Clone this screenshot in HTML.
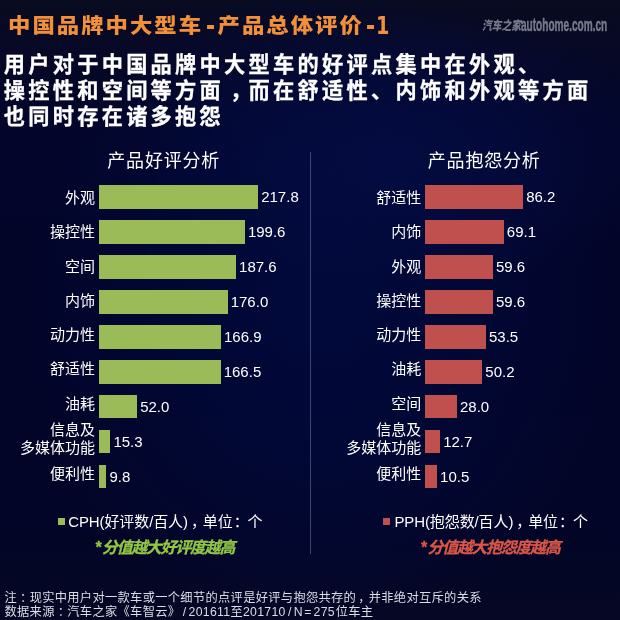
<!DOCTYPE html>
<html lang="zh">
<head>
<meta charset="utf-8">
<title>中国品牌中大型车-产品总体评价-1</title>
<style>
html,body{margin:0;padding:0;}
body{width:620px;height:620px;overflow:hidden;position:relative;background:#03062c;
font-family:"Liberation Sans","Noto Sans CJK SC",sans-serif;color:#fff;}
#bg{position:absolute;left:0;top:0;width:620px;height:620px;
background:
radial-gradient(ellipse 270px 140px at 400px 150px, rgba(4,14,72,0.6) 0%, rgba(4,14,72,0.35) 50%, rgba(4,14,72,0) 100%),
radial-gradient(ellipse 300px 330px at 320px 300px, rgba(1,10,62,0.9) 0%, rgba(1,10,62,0.6) 45%, rgba(1,10,62,0) 100%),
linear-gradient(180deg,#090b20 0%,#070925 6%,#03052a 20%,#020428 50%,#030528 85%,#050724 100%);}
.abs{position:absolute;white-space:nowrap;}
#title{left:7.7px;top:10px;width:400px;height:32px;font-size:21.4px;line-height:32px;font-weight:900;color:#f2903a;letter-spacing:1.95px;transform:scale(1.045,0.93);transform-origin:0 26px;}
.tt{font-weight:bold;color:#f2903a;}
#logo{left:481.5px;top:17px;width:130px;height:18px;font-weight:bold;color:#777a88;}
.hl{left:3.7px;font-size:21.2px;line-height:28px;font-weight:bold;color:#fff;letter-spacing:3.3px;-webkit-text-stroke:0.3px #fff;}
.sub{font-size:18px;line-height:24px;color:#fff;font-weight:400;letter-spacing:0.8px;text-align:center;width:160px;}
.lab{font-size:15px;line-height:18px;text-align:right;width:110px;color:#fff;}
.val{font-size:15px;line-height:18px;color:#fff;}
.bar{position:absolute;height:23.5px;}
.g{background:#9bbb59;}
.r{background:#c0504d;}
.leg{font-size:15px;line-height:20px;color:#fff;letter-spacing:-0.1px;}
.p1{position:relative;left:3px;}.p2{position:relative;left:1px;}
.note{font-size:15.8px;line-height:18px;font-weight:bold;font-style:italic;letter-spacing:-1.12px;-webkit-text-stroke:0.3px currentColor;}
.pc{position:relative;left:3px;}
.foot{left:4.5px;font-size:12.25px;line-height:14px;color:#dcdce6;letter-spacing:0.31px;}
</style>
</head>
<body>
<div id="bg"></div>
<div id="title" class="abs"><span class="abs" style="left:0">中国品牌中大型车</span><span class="abs" style="left:200.5px">产品总体评价</span></div>
<div class="abs tt" style="left:206.2px;top:4.2px;font-size:34px;line-height:40px;transform:scaleX(0.8);transform-origin:0 50%">-</div>
<div class="abs tt" style="left:366px;top:4.2px;font-size:34px;line-height:40px;transform:scaleX(0.8);transform-origin:0 50%">-</div>
<div class="abs tt" style="left:376px;top:10.6px;font-family:'DejaVu Sans',sans-serif;font-size:24.7px;line-height:30px;transform:scaleX(0.78);transform-origin:0 50%">1</div>
<div id="logo" class="abs"><span class="abs" style="left:0;top:0;font-size:12.5px;line-height:18px;font-weight:900;font-style:italic;transform:scaleX(0.78);transform-origin:0 50%">汽车之家</span><span class="abs" style="left:39.8px;top:-0.8px;font-size:18px;line-height:18px;-webkit-text-stroke:0.5px #777a88;transform:scaleX(0.56);transform-origin:0 50%">autohome.com.cn</span></div>
<div class="abs hl" style="top:50.9px">用户对于中国品牌中大型车的好评点集中在外观、</div>
<div class="abs hl" style="top:76.9px">操控性和空间等方面<span style="position:relative;left:6px">，</span>而在舒适性、内饰和外观等方面</div>
<div class="abs hl" style="top:103.1px">也同时存在诸多抱怨</div>

<div class="abs sub" style="left:83.7px;top:148.7px">产品好评分析</div>
<div class="abs sub" style="left:404.2px;top:148.7px">产品抱怨分析</div>
<div class="abs" style="left:310px;top:152px;width:1px;height:402px;background:rgba(150,155,195,0.42)"></div>

<!-- left chart -->
<div class="abs lab" style="left:-15.0px;top:188.9px">外观</div><div class="bar g" style="left:99.2px;top:185.30px;width:159.0px"></div><div class="abs val" style="left:261.2px;top:188.2px">217.8</div>
<div class="abs lab" style="left:-15.0px;top:223.1px">操控性</div><div class="bar g" style="left:99.2px;top:220.24px;width:145.7px"></div><div class="abs val" style="left:247.9px;top:223.2px">199.6</div>
<div class="abs lab" style="left:-15.0px;top:257.9px">空间</div><div class="bar g" style="left:99.2px;top:255.18px;width:136.9px"></div><div class="abs val" style="left:239.1px;top:258.1px">187.6</div>
<div class="abs lab" style="left:-15.0px;top:292.0px">内饰</div><div class="bar g" style="left:99.2px;top:290.12px;width:128.5px"></div><div class="abs val" style="left:230.7px;top:293.1px">176.0</div>
<div class="abs lab" style="left:-15.0px;top:326.3px">动力性</div><div class="bar g" style="left:99.2px;top:325.06px;width:121.8px"></div><div class="abs val" style="left:224.0px;top:328.0px">166.9</div>
<div class="abs lab" style="left:-15.0px;top:360.2px">舒适性</div><div class="bar g" style="left:99.2px;top:360.00px;width:121.5px"></div><div class="abs val" style="left:223.7px;top:362.9px">166.5</div>
<div class="abs lab" style="left:-15.0px;top:394.7px">油耗</div><div class="bar g" style="left:99.2px;top:394.94px;width:38.0px"></div><div class="abs val" style="left:140.2px;top:397.9px">52.0</div>
<div class="abs lab" style="left:-15.0px;top:421.1px">信息及<br>多媒体功能</div><div class="bar g" style="left:99.2px;top:429.88px;width:11.2px"></div><div class="abs val" style="left:113.4px;top:432.8px">15.3</div>
<div class="abs lab" style="left:-15.0px;top:464.5px">便利性</div><div class="bar g" style="left:99.2px;top:464.82px;width:7.2px"></div><div class="abs val" style="left:109.4px;top:467.8px">9.8</div>

<!-- right chart -->
<div class="abs lab" style="left:311.3px;top:188.9px">舒适性</div><div class="bar r" style="left:425.1px;top:185.30px;width:98.0px"></div><div class="abs val" style="left:526.2px;top:188.2px">86.2</div>
<div class="abs lab" style="left:311.3px;top:223.1px">内饰</div><div class="bar r" style="left:425.1px;top:220.24px;width:78.6px"></div><div class="abs val" style="left:506.8px;top:223.2px">69.1</div>
<div class="abs lab" style="left:311.3px;top:257.9px">外观</div><div class="bar r" style="left:425.1px;top:255.18px;width:67.8px"></div><div class="abs val" style="left:496.0px;top:258.1px">59.6</div>
<div class="abs lab" style="left:311.3px;top:292.0px">操控性</div><div class="bar r" style="left:425.1px;top:290.12px;width:67.8px"></div><div class="abs val" style="left:496.0px;top:293.1px">59.6</div>
<div class="abs lab" style="left:311.3px;top:326.3px">动力性</div><div class="bar r" style="left:425.1px;top:325.06px;width:60.8px"></div><div class="abs val" style="left:489.0px;top:328.0px">53.5</div>
<div class="abs lab" style="left:311.3px;top:360.2px">油耗</div><div class="bar r" style="left:425.1px;top:360.00px;width:57.1px"></div><div class="abs val" style="left:485.3px;top:362.9px">50.2</div>
<div class="abs lab" style="left:311.3px;top:394.7px">空间</div><div class="bar r" style="left:425.1px;top:394.94px;width:31.8px"></div><div class="abs val" style="left:460.0px;top:397.9px">28.0</div>
<div class="abs lab" style="left:311.3px;top:421.1px">信息及<br>多媒体功能</div><div class="bar r" style="left:425.1px;top:429.88px;width:15.0px"></div><div class="abs val" style="left:443.2px;top:432.8px">12.7</div>
<div class="abs lab" style="left:311.3px;top:464.5px">便利性</div><div class="bar r" style="left:425.1px;top:464.82px;width:11.9px"></div><div class="abs val" style="left:440.1px;top:467.8px">10.5</div>

<!-- legends -->
<div class="abs" style="left:57.6px;top:517.9px;width:7px;height:7.3px;background:#9bbb59"></div>
<div class="abs leg" style="left:68.2px;top:511.8px">CPH(好评数/百人)<span class="p1">，</span>单位<span class="p2">：</span>个</div>
<div class="abs note" style="left:95px;top:538.5px;color:#93c843"><span style="margin-right:2px">*</span>分值越大好评度越高</div>
<div class="abs" style="left:383.3px;top:517.9px;width:7px;height:7.3px;background:#c0504d"></div>
<div class="abs leg" style="left:394.4px;top:511.8px">PPH(抱怨数/百人)<span class="p1">，</span>单位<span class="p2">：</span>个</div>
<div class="abs note" style="left:420.5px;top:538.5px;color:#dc5747"><span style="margin-right:2px">*</span>分值越大抱怨度越高</div>

<div class="abs foot" style="top:591.1px">注<span class="pc">：</span>现实中用户对一款车或一个细节的点评是好评与抱怨共存的<span class="pc" style="left:2px">，</span>并非绝对互斥的关系</div>
<div class="abs foot" style="top:604.5px">数据来源<span class="pc">：</span>汽车之家《车智云》<span style="margin:0 2px 0 2.5px">/</span>201611至201710<span style="margin:0 2.2px">/</span><span style="margin-right:1.3px">N</span><span style="margin-right:1.8px">=</span>275<span style="margin-left:.8px">位车主</span></div>
</body>
</html>
